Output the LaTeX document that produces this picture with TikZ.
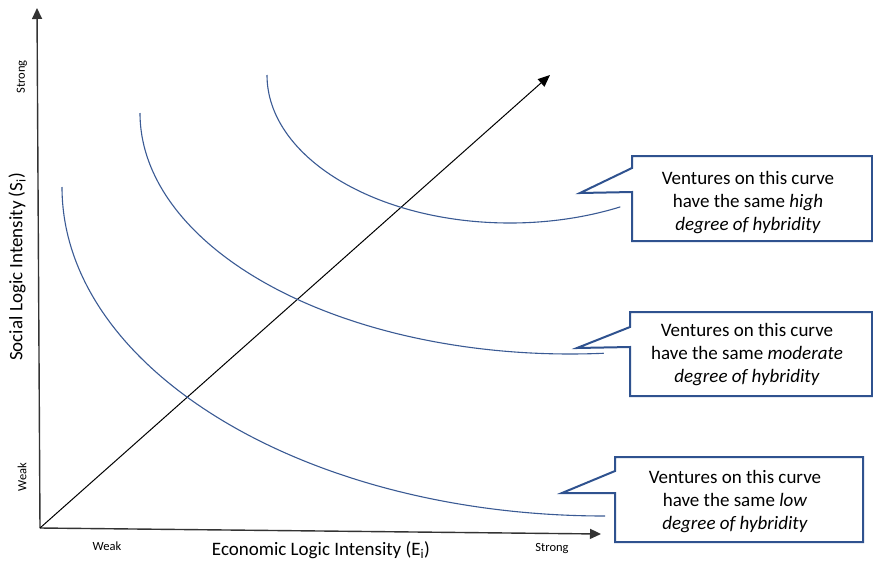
\documentclass[tikz,border=0pt]{standalone}
\usepackage{fontspec}
\setmainfont{Carlito}
\usetikzlibrary{arrows.meta}
\definecolor{curveblue}{HTML}{3A5A94}
\definecolor{boxblue}{HTML}{2F528F}
\definecolor{axisgray}{HTML}{333333}
\tikzset{
  axisline/.style={draw=axisgray, line width=1.4pt, -{Triangle[length=11pt,width=10pt]}},
  diagline/.style={draw=black, line width=1pt, -{Triangle[length=12pt,width=10pt]}},
  curve/.style={draw=curveblue, line width=1.1pt},
  callout/.style={draw=boxblue, line width=2pt, fill=white, line join=miter},
  calltext/.style={align=center, font=\fontsize{19}{23}\selectfont, inner sep=0pt},
  small/.style={font=\fontsize{12.5}{14}\selectfont, inner sep=0pt},
  big/.style={font=\fontsize{19}{22}\selectfont, inner sep=0pt}
}
\begin{document}
\begin{tikzpicture}[x=1pt, y=-1pt]
\useasboundingbox (0,0) rectangle (873,563);
% axes
\coordinate (O) at (40,528);
\coordinate (Ytop) at (37,8);
\coordinate (Xend) at (601,534);
\coordinate (Dend) at (550,75);
\draw[axisline] (O) -- (Ytop);
\draw[axisline] (O) -- (Xend);
\draw[diagline] (O) -- (Dend);
% curves
\draw[curve] (267,75) arc[start angle=180, end angle=297, x radius=243pt, y radius=148pt];
\draw[curve] (140,113) arc[start angle=180, end angle=274.5, x radius=430pt, y radius=241pt];
\draw[curve] (62,187) arc[start angle=180, end angle=270, x radius=543pt, y radius=329pt];
% callouts
\draw[callout] (632,156) -- (872,156) -- (872,241) -- (632,241) -- (632,192) -- (580,193) -- (632,168) -- cycle;
\node[calltext] (t1) at (748,203) {Ventures on this curve\\have the same \textit{high}\\\textit{degree of hybridity}};
\draw[callout] (630,312) -- (872,312) -- (872,396) -- (630,396) -- (630,347) -- (577,348) -- (630,327) -- cycle;
\node[calltext] (t2) at (747,355) {Ventures on this curve\\have the same \textit{moderate}\\\textit{degree of hybridity}};
\draw[callout] (615,457) -- (863,457) -- (863,542) -- (615,542) -- (615,493) -- (562,493) -- (615,471) -- cycle;
\node[calltext] (t3) at (735,502) {Ventures on this curve\\have the same \textit{low}\\\textit{degree of hybridity}};
% labels
\node[big, rotate=90] (ylab) at (17,267) {Social Logic Intensity (S\textsubscript{i})};
\node[big] (xlab) at (321,550) {Economic Logic Intensity (E\textsubscript{i})};
\node[small, rotate=90] (ystrong) at (22,77) {Strong};
\node[small, rotate=90] (yweak) at (22,477) {Weak};
\node[small] (xweak) at (107,546) {Weak};
\node[small] (xstrong) at (552,549) {Strong};
\end{tikzpicture}
\end{document}
